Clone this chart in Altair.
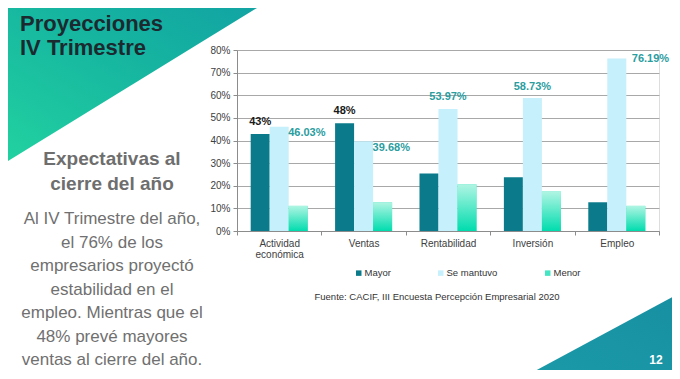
import altair as alt
import pandas as pd
import json

# ---- data ----
categories = ["Actividad económica", "Ventas", "Rentabilidad", "Inversión", "Empleo"]
series = ["Mayor", "Se mantuvo", "Menor"]
mayor = [42.86, 47.62, 25.40, 23.81, 12.70]
se_mantuvo = [46.03, 39.68, 53.97, 58.73, 76.19]
menor = [11.11, 12.70, 20.63, 17.46, 11.11]
y_ticks = [0, 10, 20, 30, 40, 50, 60, 70, 80]

title_lines = ["Proyecciones", "IV Trimestre"]
sub_lines = ["Expectativas al", "cierre del año"]
body_lines = ["Al IV Trimestre del año,", "el 76% de los", "empresarios proyectó",
              "estabilidad en el", "empleo. Mientras que el", "48% prevé mayores",
              "ventas al cierre del año."]
source_text = "Fuente: CACIF, III Encuesta Percepción Empresarial 2020"
page_number = "12"

rows = []
for name, vals in zip(series, [mayor, se_mantuvo, menor]):
    for c, v in zip(categories, vals):
        rows.append({"categoria": c, "serie": name, "valor": v})
df = pd.DataFrame(rows)

one = pd.DataFrame({"k": [1]})

FONT = "Liberation Sans"
DARK = "#0b7b8b"
LIGHT = "#c6f0fc"
MINT = "#45e4c2"
TEAL_LBL = "#2a9d9f"


def sel(serie, cats):
    return "datum.serie == '%s' && indexof(%s, datum.categoria) >= 0" % (serie, json.dumps(cats, ensure_ascii=False))


x_enc = alt.X("categoria:N", sort=categories,
              scale=alt.Scale(paddingInner=0, paddingOuter=0),
              axis=alt.Axis(title=None, labelAngle=0, tickBand="extent", ticks=True,
                            tickSize=4, tickColor="#8c8c8c", domainColor="#8c8c8c",
                            labelFontSize=10, labelColor="#404040", labelPadding=3,
                            labelLineHeight=11, labelFont=FONT,
                            labelExpr="datum.label == 'Actividad económica' ? ['Actividad', 'económica'] : datum.label"))
xo_enc = alt.XOffset("serie:N", sort=series,
                     scale=alt.Scale(domain=series, paddingInner=0, paddingOuter=0.72))
y_enc = alt.Y("valor:Q", scale=alt.Scale(domain=[0, 80], nice=False),
              axis=alt.Axis(title=None, values=y_ticks, labelExpr="datum.value + '%'",
                            grid=True, gridColor="#a8a8a8", gridWidth=1,
                            domainColor="#8c8c8c", tickColor="#8c8c8c", tickSize=4,
                            labelFontSize=10, labelColor="#404040", labelPadding=3,
                            labelFont=FONT))

# ---- slide decorations ----
tri_tl = alt.Chart(one).mark_point(
    shape="M-1,-1 L1,-1 L-1,0.2296 Z", filled=True, opacity=1, strokeWidth=0, size=72900,
    color=alt.Gradient(gradient="linear", x1=0, y1=1, x2=1, y2=0,
                       stops=[alt.GradientStop(color="#22d3a0", offset=0),
                              alt.GradientStop(color="#15b3a0", offset=0.6),
                              alt.GradientStop(color="#12a2a4", offset=1)])
).encode(x=alt.value(-102), y=alt.value(85))

tri_br = alt.Chart(one).mark_point(
    shape="M1,-0.075 L1,1 L-1,1 Z", filled=True, opacity=1, strokeWidth=0, size=25600,
    color=alt.Gradient(gradient="linear", x1=0, y1=1, x2=1, y2=0,
                       stops=[alt.GradientStop(color="#1b9aa8", offset=0),
                              alt.GradientStop(color="#1790a2", offset=1)])
).encode(x=alt.value(363), y=alt.value(249))

title = alt.Chart(one).mark_text(
    align="left", baseline="alphabetic", font=FONT, fontSize=22, fontWeight="bold",
    color="#1c2a30", lineHeight=24
).encode(x=alt.value(-217), y=alt.value(-19), text=alt.value(title_lines))

subtitle = alt.Chart(one).mark_text(
    align="center", baseline="alphabetic", font=FONT, fontSize=19, fontWeight="bold",
    color="#6e6e6e", lineHeight=25
).encode(x=alt.value(-125), y=alt.value(115), text=alt.value(sub_lines))

body = alt.Chart(one).mark_text(
    align="center", baseline="alphabetic", font=FONT, fontSize=17,
    color="#707070", lineHeight=23.5
).encode(x=alt.value(-125), y=alt.value(174), text=alt.value(body_lines))

source = alt.Chart(one).mark_text(
    align="center", baseline="middle", font=FONT, fontSize=9.5, color="#333333"
).encode(x=alt.value(200), y=alt.value(247), text=alt.value(source_text))

pnum = alt.Chart(one).mark_text(
    align="center", baseline="middle", font=FONT, fontSize=12, fontWeight="bold",
    color="white"
).encode(x=alt.value(419), y=alt.value(310), text=alt.value(page_number))

# ---- bars ----
bars = alt.Chart(df).mark_bar().encode(
    x=x_enc, xOffset=xo_enc, y=y_enc,
    color=alt.Color("serie:N", sort=series,
                    scale=alt.Scale(domain=series, range=[DARK, LIGHT, MINT]),
                    legend=alt.Legend(title=None, orient="none", legendX=117, legendY=218,
                                      direction="horizontal", symbolType="square",
                                      symbolSize=30, symbolStrokeWidth=0,
                                      labelFontSize=9.5, labelColor="#333333",
                                      labelFont=FONT, labelOffset=1, columnPadding=45))
)

menor_bars = alt.Chart(df).transform_filter("datum.serie == 'Menor'").mark_bar(
    color=alt.Gradient(gradient="linear", x1=0, y1=0, x2=0, y2=1,
                       stops=[alt.GradientStop(color="#b0f5e3", offset=0),
                              alt.GradientStop(color="#00dcae", offset=1)])
).encode(x=x_enc, xOffset=xo_enc, y=y_enc)

# ---- value labels ----
lbl_black = alt.Chart(df).transform_filter(sel("Mayor", categories[:2])).transform_calculate(
    t="format(datum.valor, '.0f') + '%'").mark_text(
    align="center", baseline="middle", dy=-12, font=FONT, fontSize=11, fontWeight="bold",
    color="#1a1a1a"
).encode(x=x_enc, xOffset=xo_enc, y=y_enc, text="t:N")

lbl_right = alt.Chart(df).transform_filter(sel("Se mantuvo", categories[:2])).transform_calculate(
    t="format(datum.valor, '.2f') + '%'").mark_text(
    align="left", baseline="middle", dx=9, dy=6.5, font=FONT, fontSize=11, fontWeight="bold",
    color=TEAL_LBL
).encode(x=x_enc, xOffset=xo_enc, y=y_enc, text="t:N")

lbl_above = alt.Chart(df).transform_filter(sel("Se mantuvo", categories[2:4])).transform_calculate(
    t="format(datum.valor, '.2f') + '%'").mark_text(
    align="center", baseline="middle", dy=-11.5, font=FONT, fontSize=11, fontWeight="bold",
    color=TEAL_LBL
).encode(x=x_enc, xOffset=xo_enc, y=y_enc, text="t:N")

lbl_top = alt.Chart(df).transform_filter(sel("Se mantuvo", categories[4:])).transform_calculate(
    t="format(datum.valor, '.2f') + '%'").mark_text(
    align="left", baseline="middle", dx=15, dy=0.5, font=FONT, fontSize=11, fontWeight="bold",
    color=TEAL_LBL
).encode(x=x_enc, xOffset=xo_enc, y=y_enc, text="t:N")

chart = alt.layer(
    tri_tl, tri_br, title, subtitle, body, source, pnum,
    bars, menor_bars, lbl_black, lbl_right, lbl_above, lbl_top
).properties(
    width=422, height=181,
    autosize=alt.AutoSizeParams(type="none"),
    padding={"left": 229, "top": 42, "right": 13, "bottom": 139},
    background="white"
).configure_view(stroke=None).configure(font=FONT)

chart.save("out.html", embed_options={"renderer": "svg", "actions": False})
